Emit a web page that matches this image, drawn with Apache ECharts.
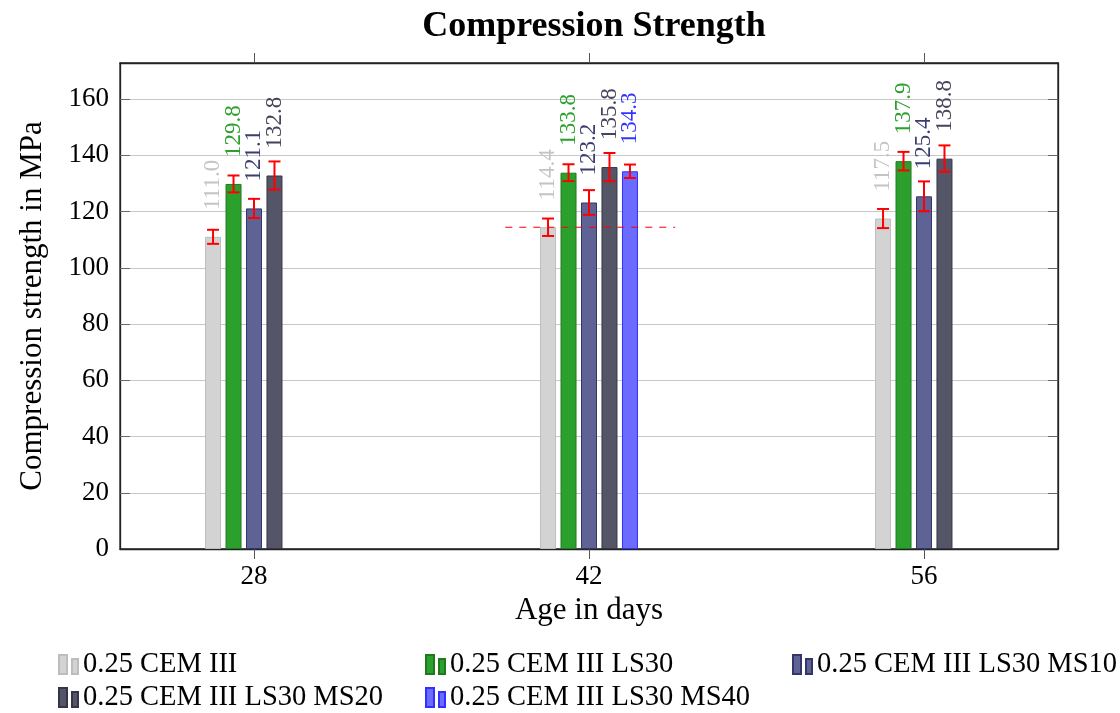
<!DOCTYPE html>
<html>
<head>
<meta charset="utf-8">
<title>Compression Strength</title>
<script src="https://cdn.jsdelivr.net/npm/echarts@6/dist/echarts.min.js"></script>
<style>
  html, body { margin: 0; padding: 0; background: #ffffff; }
  #chart { width: 1120px; height: 713px; }
</style>
</head>
<body>
<div id="chart"></div>
<script>
// Test ages (days) and mean compression strength per mix (MPa)
const ages = [28, 42, 56];
const seriesNames = [
  '0.25 CEM III',
  '0.25 CEM III LS30',
  '0.25 CEM III LS30 MS10',
  '0.25 CEM III LS30 MS20',
  '0.25 CEM III LS30 MS40'
];
const cem3 = [111.0, 114.4, 117.5];
const ls30 = [129.8, 133.8, 137.9];
const ms10 = [121.1, 123.2, 125.4];
const ms20 = [132.8, 135.8, 138.8];
const ms40 = [null, 134.3, null];

// Standard deviations (MPa)
const cem3Err = [2.5, 3.1, 3.4];
const ls30Err = [3.0, 3.0, 3.3];
const ms10Err = [3.4, 4.4, 5.3];
const ms20Err = [5.0, 5.0, 4.7];
const ms40Err = [null, 2.4, null];

// Axis ticks
const xTicks = [28, 42, 56];
const yTicks = [0, 20, 40, 60, 80, 100, 120, 140, 160];

// Dashed reference at the 42-day CEM III level, spanning these ages
const refSpan = [38.5, 45.6];

const means = [cem3, ls30, ms10, ms20, ms40];
const errs = [cem3Err, ls30Err, ms10Err, ms20Err, ms40Err];

const fills   = ['#d3d3d3', '#2ca02c', '#5f6294', '#555568', '#6b6bff'];
const borders = ['#bdbdbd', '#1f7a1f', '#34366b', '#35354a', '#3030ff'];
const labelColors = ['#c4c4c4', '#2ca02c', '#3b3d6e', '#45455a', '#3333ff'];

const FONT = 'Liberation Serif';
const BAR_W = 16;
const BAR_GAP = 0.28;
const PITCH = BAR_W * (1 + BAR_GAP);
const LEGEND_ICON = 'path://M0,0H8V19H0Z M13,4H19V19H13Z';

const GRID = { left: 120, right: 62, top: 63, bottom: 164 };
const PLOT_CENTER_X = GRID.left + (1120 - GRID.left - GRID.right) / 2;

const barSeries = means.map((vals, k) => ({
  name: seriesNames[k],
  type: 'bar',
  xAxisIndex: 0,
  yAxisIndex: 0,
  barWidth: BAR_W,
  barGap: (BAR_GAP * 100) + '%',
  data: ages.map((a, i) => [a, vals[i]]).filter(d => d[1] != null),
  itemStyle: { color: fills[k], borderColor: borders[k], borderWidth: 1 },
  label: {
    show: true,
    position: 'top',
    rotate: 90,
    align: 'left',
    verticalAlign: 'middle',
    distance: 27,
    fontFamily: FONT,
    fontSize: 23,
    color: labelColors[k],
    formatter: p => p.value[1].toFixed(1)
  },
  emphasis: { disabled: true },
  z: 2
}));

// Error bar rows: [age, low, high, series index]
const errRows = [];
means.forEach((vals, k) => {
  vals.forEach((v, i) => {
    if (v == null) return;
    errRows.push([ages[i], v - errs[k][i], v + errs[k][i], k]);
  });
});

const errorSeries = {
  type: 'custom',
  xAxisIndex: 0,
  yAxisIndex: 0,
  data: errRows,
  encode: { x: 0, y: [1, 2] },
  z: 5,
  silent: true,
  renderItem: (params, api) => {
    const x = api.value(0);
    const k = api.value(3);
    const hi = api.coord([x, api.value(2)]);
    const lo = api.coord([x, api.value(1)]);
    const cx = hi[0] + (k - (means.length - 1) / 2) * PITCH;
    const cap = 6;
    const style = { stroke: '#ff0000', lineWidth: 2 };
    return {
      type: 'group',
      children: [
        { type: 'line', shape: { x1: cx, y1: hi[1], x2: cx, y2: lo[1] }, style },
        { type: 'line', shape: { x1: cx - cap, y1: hi[1], x2: cx + cap, y2: hi[1] }, style },
        { type: 'line', shape: { x1: cx - cap, y1: lo[1], x2: cx + cap, y2: lo[1] }, style }
      ]
    };
  }
};

const refSeries = {
  type: 'line',
  xAxisIndex: 0,
  yAxisIndex: 0,
  data: refSpan.map(a => [a, cem3[1]]),
  symbol: 'none',
  silent: true,
  lineStyle: { color: '#ff0000', width: 1, type: [7, 7] },
  z: 6
};

const legendPos = [
  [58, 650], [425, 650], [792, 650],
  [58, 683], [425, 683]
];
const legends = seriesNames.map((n, k) => ({
  data: [n],
  left: legendPos[k][0],
  top: legendPos[k][1],
  padding: 0,
  icon: LEGEND_ICON,
  itemWidth: 19,
  itemHeight: 19,
  selectedMode: false,
  textStyle: { fontFamily: FONT, fontSize: 28.5, color: '#000' }
}));

const X_MIN = 22.4, X_MAX = 61.6, Y_MIN = 0, Y_MAX = 172.8;
const axisLine = { show: true, onZero: false, lineStyle: { color: '#222', width: 1.3 } };
// inner tick marks sit on the grid lines; the zero line is the frame itself
const yInnerTicks = yTicks.filter(v => v > Y_MIN);

const option = {
  animation: false,
  backgroundColor: '#ffffff',
  title: {
    text: 'Compression Strength',
    left: PLOT_CENTER_X,
    textAlign: 'center',
    top: 4,
    textStyle: { fontFamily: FONT, fontWeight: 'bold', fontSize: 36, color: '#000' }
  },
  legend: legends,
  grid: Object.assign({
    show: true,
    borderColor: '#222',
    borderWidth: 1.3,
    backgroundColor: 'transparent',
    outerBoundsMode: 'none',
    containLabel: false
  }, GRID),
  xAxis: [
    {
      type: 'value', position: 'bottom', min: X_MIN, max: X_MAX,
      name: 'Age in days', nameLocation: 'middle', nameGap: 43,
      nameTextStyle: { fontFamily: FONT, fontSize: 31, color: '#000' },
      axisLine,
      axisTick: { show: true, inside: false, length: 10, customValues: xTicks, lineStyle: { color: '#555', width: 1 } },
      axisLabel: { show: true, customValues: xTicks, margin: 14, fontFamily: FONT, fontSize: 27, color: '#000' },
      splitLine: { show: false }
    },
    {
      type: 'value', position: 'top', min: X_MIN, max: X_MAX,
      axisLine,
      axisTick: { show: true, inside: false, length: 10, customValues: xTicks, lineStyle: { color: '#555', width: 1 } },
      axisLabel: { show: false },
      splitLine: { show: false }
    }
  ],
  yAxis: [
    {
      type: 'value', position: 'left', min: Y_MIN, max: Y_MAX,
      name: 'Compression strength in MPa', nameLocation: 'middle', nameGap: 72,
      nameTextStyle: { fontFamily: FONT, fontSize: 31, color: '#000' },
      axisLine,
      axisTick: { show: true, inside: true, length: 10, customValues: yInnerTicks, lineStyle: { color: '#666', width: 1 } },
      axisLabel: { show: true, customValues: yTicks, margin: 11, fontFamily: FONT, fontSize: 27, color: '#000' },
      splitLine: { show: true, lineStyle: { color: '#c8c8c8', width: 1 } }
    },
    {
      type: 'value', position: 'right', min: Y_MIN, max: Y_MAX,
      axisLine,
      axisTick: { show: true, inside: true, length: 10, customValues: yInnerTicks, lineStyle: { color: '#666', width: 1 } },
      axisLabel: { show: false },
      splitLine: { show: false }
    }
  ],
  series: [...barSeries, errorSeries, refSeries]
};

const chart = echarts.init(document.getElementById('chart'), null, { renderer: 'canvas' });
chart.setOption(option);
</script>
</body>
</html>
